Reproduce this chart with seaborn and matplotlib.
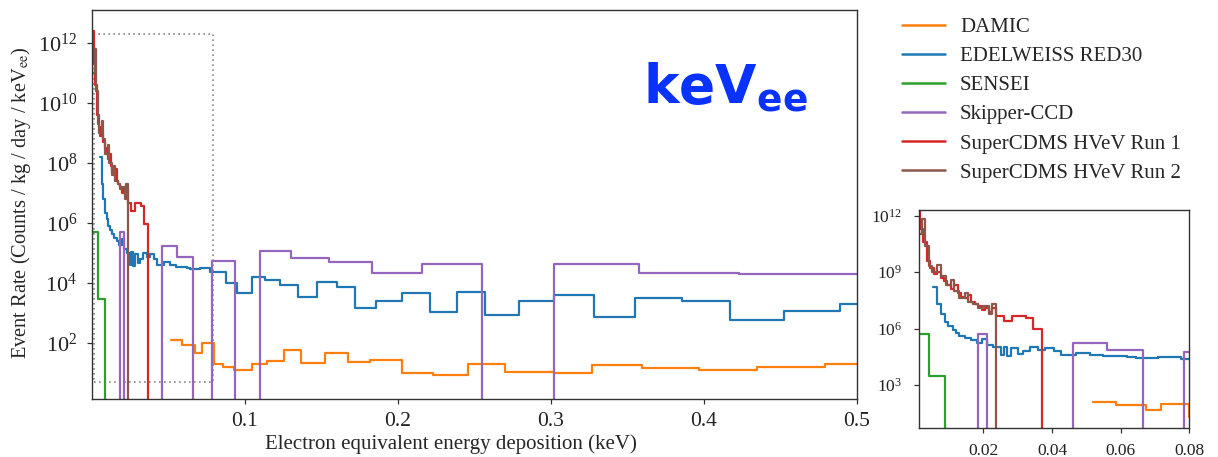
import numpy as np
import pandas as pd
import matplotlib
matplotlib.use("Agg")
import matplotlib.pyplot as plt
from matplotlib.patches import Rectangle
from matplotlib.lines import Line2D
from matplotlib.ticker import NullLocator, LogFormatterMathtext
import seaborn as sns

# ---------------------------------------------------------------------------
# Measured low-energy event rates, binned in electron-equivalent energy.
# Each series: bin edges (keVee) and the rate in each bin
# (counts / kg / day / keVee). A rate of 0 marks an empty bin.
# ---------------------------------------------------------------------------
experiments = ["DAMIC", "EDELWEISS RED30", "SENSEI", "Skipper-CCD",
               "SuperCDMS HVeV Run 1", "SuperCDMS HVeV Run 2"]
colors = ["#ff7f0e", "#1f77b4", "#2ca02c", "#9467bd", "#d62728", "#8c564b"]

damic_edges = [0.052, 0.0588, 0.0675, 0.0719, 0.0801, 0.086, 0.093, 0.1046,
               0.1144, 0.1255, 0.137, 0.1525, 0.1677, 0.182, 0.2026, 0.223,
               0.246, 0.270, 0.302, 0.327, 0.3595, 0.3965, 0.4347, 0.479, 0.5]
damic_rate = [123, 83, 47, 100, 20, 16, 12.3, 20, 25, 58, 21, 45, 23, 26,
              10, 8.3, 20, 10.7, 9.5, 18, 14, 12.3, 16, 19.5]

edelweiss_edges = [0.0054, 0.0065, 0.0076, 0.0087, 0.0098, 0.011, 0.012,
                   0.013, 0.0145, 0.0163, 0.018, 0.0196, 0.021, 0.0229,
                   0.025, 0.026, 0.027, 0.028, 0.030, 0.0316, 0.0336, 0.036,
                   0.038, 0.0405, 0.0425, 0.047, 0.051, 0.055, 0.062, 0.0645,
                   0.071, 0.0775, 0.088, 0.0948, 0.1046, 0.1133, 0.123,
                   0.135, 0.147, 0.160, 0.172, 0.186, 0.2026, 0.221, 0.2386,
                   0.257, 0.279, 0.302, 0.328, 0.355, 0.386, 0.417, 0.452,
                   0.489, 0.5]
edelweiss_rate = [1.6e8, 2.0e7, 6.3e6, 2.2e6, 1.3e6, 8.0e5, 5.6e5, 4.2e5,
                  3.2e5, 2.5e5, 1.8e5, 2.8e5, 1.3e5, 1.0e5, 4.0e4, 1.1e5,
                  3.5e4, 9.0e4, 4.5e4, 6.3e4, 1.0e5, 7.0e4, 9.0e4, 6.3e4,
                  4.0e4, 5.0e4, 4.0e4, 3.4e4, 3.0e4, 2.8e4, 3.2e4, 2.3e4,
                  1.0e4, 4.7e3, 1.6e4, 1.2e4, 8.3e3, 3.4e3, 1.07e4, 7.4e3,
                  1.4e3, 2.5e3, 4.5e3, 1.07e3, 5.0e3, 830, 2.5e3, 3.9e3,
                  740, 3.2e3, 2.5e3, 575, 1150, 1950]

sensei_edges = [0.0005, 0.004, 0.0088, 0.011]
sensei_rate = [5.0e5, 2.9e3, 0]

skipper_edges = [0.0005, 0.0185, 0.021, 0.046, 0.056, 0.0665, 0.0785, 0.0935,
                 0.110, 0.1305, 0.155, 0.183, 0.216, 0.2553, 0.302, 0.3577,
                 0.423, 0.5]
skipper_rate = [0, 4.9e5, 0, 1.7e5, 7.4e4, 0, 5.4e4, 0, 1.15e5, 6.5e4, 5.0e4,
                2.1e4, 4.1e4, 0, 4.2e4, 2.2e4, 1.9e4]

hvev1_edges = [0.0005, 0.0015, 0.0025, 0.0035, 0.0045, 0.0055, 0.0065,
               0.0075, 0.0085, 0.0095, 0.0105, 0.0115, 0.0125, 0.0135,
               0.0145, 0.0155, 0.0165, 0.0175, 0.0185, 0.0195, 0.0205,
               0.0215, 0.0225, 0.0238, 0.0259, 0.0284, 0.0324, 0.0345,
               0.0370, 0.040]
hvev1_rate = [2.5e12, 2.0e11, 4.0e10, 4.0e9, 1.6e9, 8.0e8, 1.0e9, 5.0e8,
              3.2e8, 2.0e8, 1.3e8, 2.0e8, 8.0e7, 5.0e7, 4.0e7, 6.3e7, 2.5e7,
              2.0e7, 1.6e7, 1.0e7, 1.3e7, 8.0e6, 1.3e7, 4.5e6, 2.5e6, 4.5e6,
              3.5e6, 9.0e5, 0]

hvev2_edges = [0.0005, 0.0020, 0.0030, 0.0040, 0.0050, 0.0065, 0.0075,
               0.0090, 0.0105, 0.0115, 0.0130, 0.0145, 0.0155, 0.0170,
               0.0185, 0.0200, 0.0215, 0.0225, 0.0237, 0.026]
hvev2_rate = [1.0e11, 6.3e11, 2.5e10, 2.0e9, 1.0e9, 2.5e9, 6.3e8, 2.0e8,
              4.0e8, 1.0e8, 4.0e7, 8.0e7, 2.5e7, 2.0e7, 1.3e7, 1.6e7, 6.3e6,
              2.0e7, 0]

series = {
    "DAMIC": (damic_edges, damic_rate),
    "EDELWEISS RED30": (edelweiss_edges, edelweiss_rate),
    "SENSEI": (sensei_edges, sensei_rate),
    "Skipper-CCD": (skipper_edges, skipper_rate),
    "SuperCDMS HVeV Run 1": (hvev1_edges, hvev1_rate),
    "SuperCDMS HVeV Run 2": (hvev2_edges, hvev2_rate),
}

# Long-form table: one row per bin edge, the rate holds until the next edge
frames = []
for name, (edges, rate) in series.items():
    frames.append(pd.DataFrame({"energy": edges,
                                "rate": list(rate) + [rate[-1]],
                                "experiment": name}))
spectra = pd.concat(frames, ignore_index=True)

# ---------------------------------------------------------------------------
sns.set_style("ticks")
plt.rcParams["font.family"] = ["Liberation Serif", "DejaVu Serif"]
plt.rcParams["mathtext.fontset"] = "stix"
plt.rcParams["axes.edgecolor"] = "#333333"
plt.rcParams["axes.linewidth"] = 1.0
plt.rcParams["xtick.color"] = "#333333"
plt.rcParams["ytick.color"] = "#333333"
plt.rcParams["xtick.labelcolor"] = "#222222"
plt.rcParams["ytick.labelcolor"] = "#222222"

fig = plt.figure(figsize=(12.18, 4.57), dpi=100)
ax = fig.add_axes([0.0755, 0.1269, 0.6281, 0.8523])
axin = fig.add_axes([0.7548, 0.0628, 0.2215, 0.4777])


def draw_spectra(target, lw):
    sns.lineplot(data=spectra, x="energy", y="rate", hue="experiment",
                 hue_order=experiments, palette=colors, estimator=None,
                 sort=False, drawstyle="steps-post", linewidth=lw,
                 legend=False, ax=target)
    target.set_yscale("log")
    target.set_xlabel("")
    target.set_ylabel("")
    target.yaxis.set_minor_locator(NullLocator())
    target.xaxis.set_minor_locator(NullLocator())
    target.yaxis.set_major_formatter(LogFormatterMathtext())
    target.tick_params(direction="out", length=3.5, width=0.9)
    for sp in target.spines.values():
        sp.set_visible(True)


# Main panel
draw_spectra(ax, 1.6)
ax.set_xlim(0.0002, 0.5)
ax.set_ylim(1.33, 1.3e13)
ax.set_xticks([0.1, 0.2, 0.3, 0.4, 0.5])
ax.set_xticklabels(["0.1", "0.2", "0.3", "0.4", "0.5"])
ax.set_yticks([1e2, 1e4, 1e6, 1e8, 1e10, 1e12])
ax.tick_params(axis="x", labelsize=15.5, pad=6)
ax.tick_params(axis="y", labelsize=16, pad=7)
ax.set_xlabel("Electron equivalent energy deposition (keV)", fontsize=15,
              labelpad=2)
ax.xaxis.set_label_coords(0.469, -0.09)
ax.set_ylabel(r"Event Rate (Counts / kg / day / keV$_{\mathrm{ee}}$)",
              fontsize=14.7)
ax.yaxis.set_label_coords(-0.077, 0.503)

# Region shown enlarged in the inset
ax.add_patch(Rectangle((0.0013, 5), 0.0795 - 0.0013, 2e12 - 5, fill=False,
                       ls=(0, (1, 2)), ec="#888888", lw=1.2, zorder=1))

# Inset: low-energy region
draw_spectra(axin, 1.6)
axin.set_xlim(0.0013, 0.08)
axin.set_ylim(5, 2e12)
axin.set_xticks([0.02, 0.04, 0.06, 0.08])
axin.set_xticklabels(["0.02", "0.04", "0.06", "0.08"])
axin.set_yticks([1e3, 1e6, 1e9, 1e12])
axin.tick_params(axis="x", labelsize=12.5, pad=7)
axin.tick_params(axis="y", labelsize=12.5, pad=9)

# Legend outside the axes
handles = [Line2D([], [], color=c, lw=1.8) for c in colors]
fig.legend(handles, experiments, loc="upper left",
           bbox_to_anchor=(0.7406, 0.962), frameon=False, fontsize=15,
           handlelength=2.06, handletextpad=0.72, labelspacing=0.46,
           borderpad=0, borderaxespad=0)

# Unit tag
fig.text(0.528, 0.774, r"$\mathbf{keV}_{\mathbf{ee}}$", fontsize=38.5,
         color="#0a32ff", ha="left", va="baseline",
         math_fontfamily="dejavusans")

fig.savefig("out.png", dpi=100)
